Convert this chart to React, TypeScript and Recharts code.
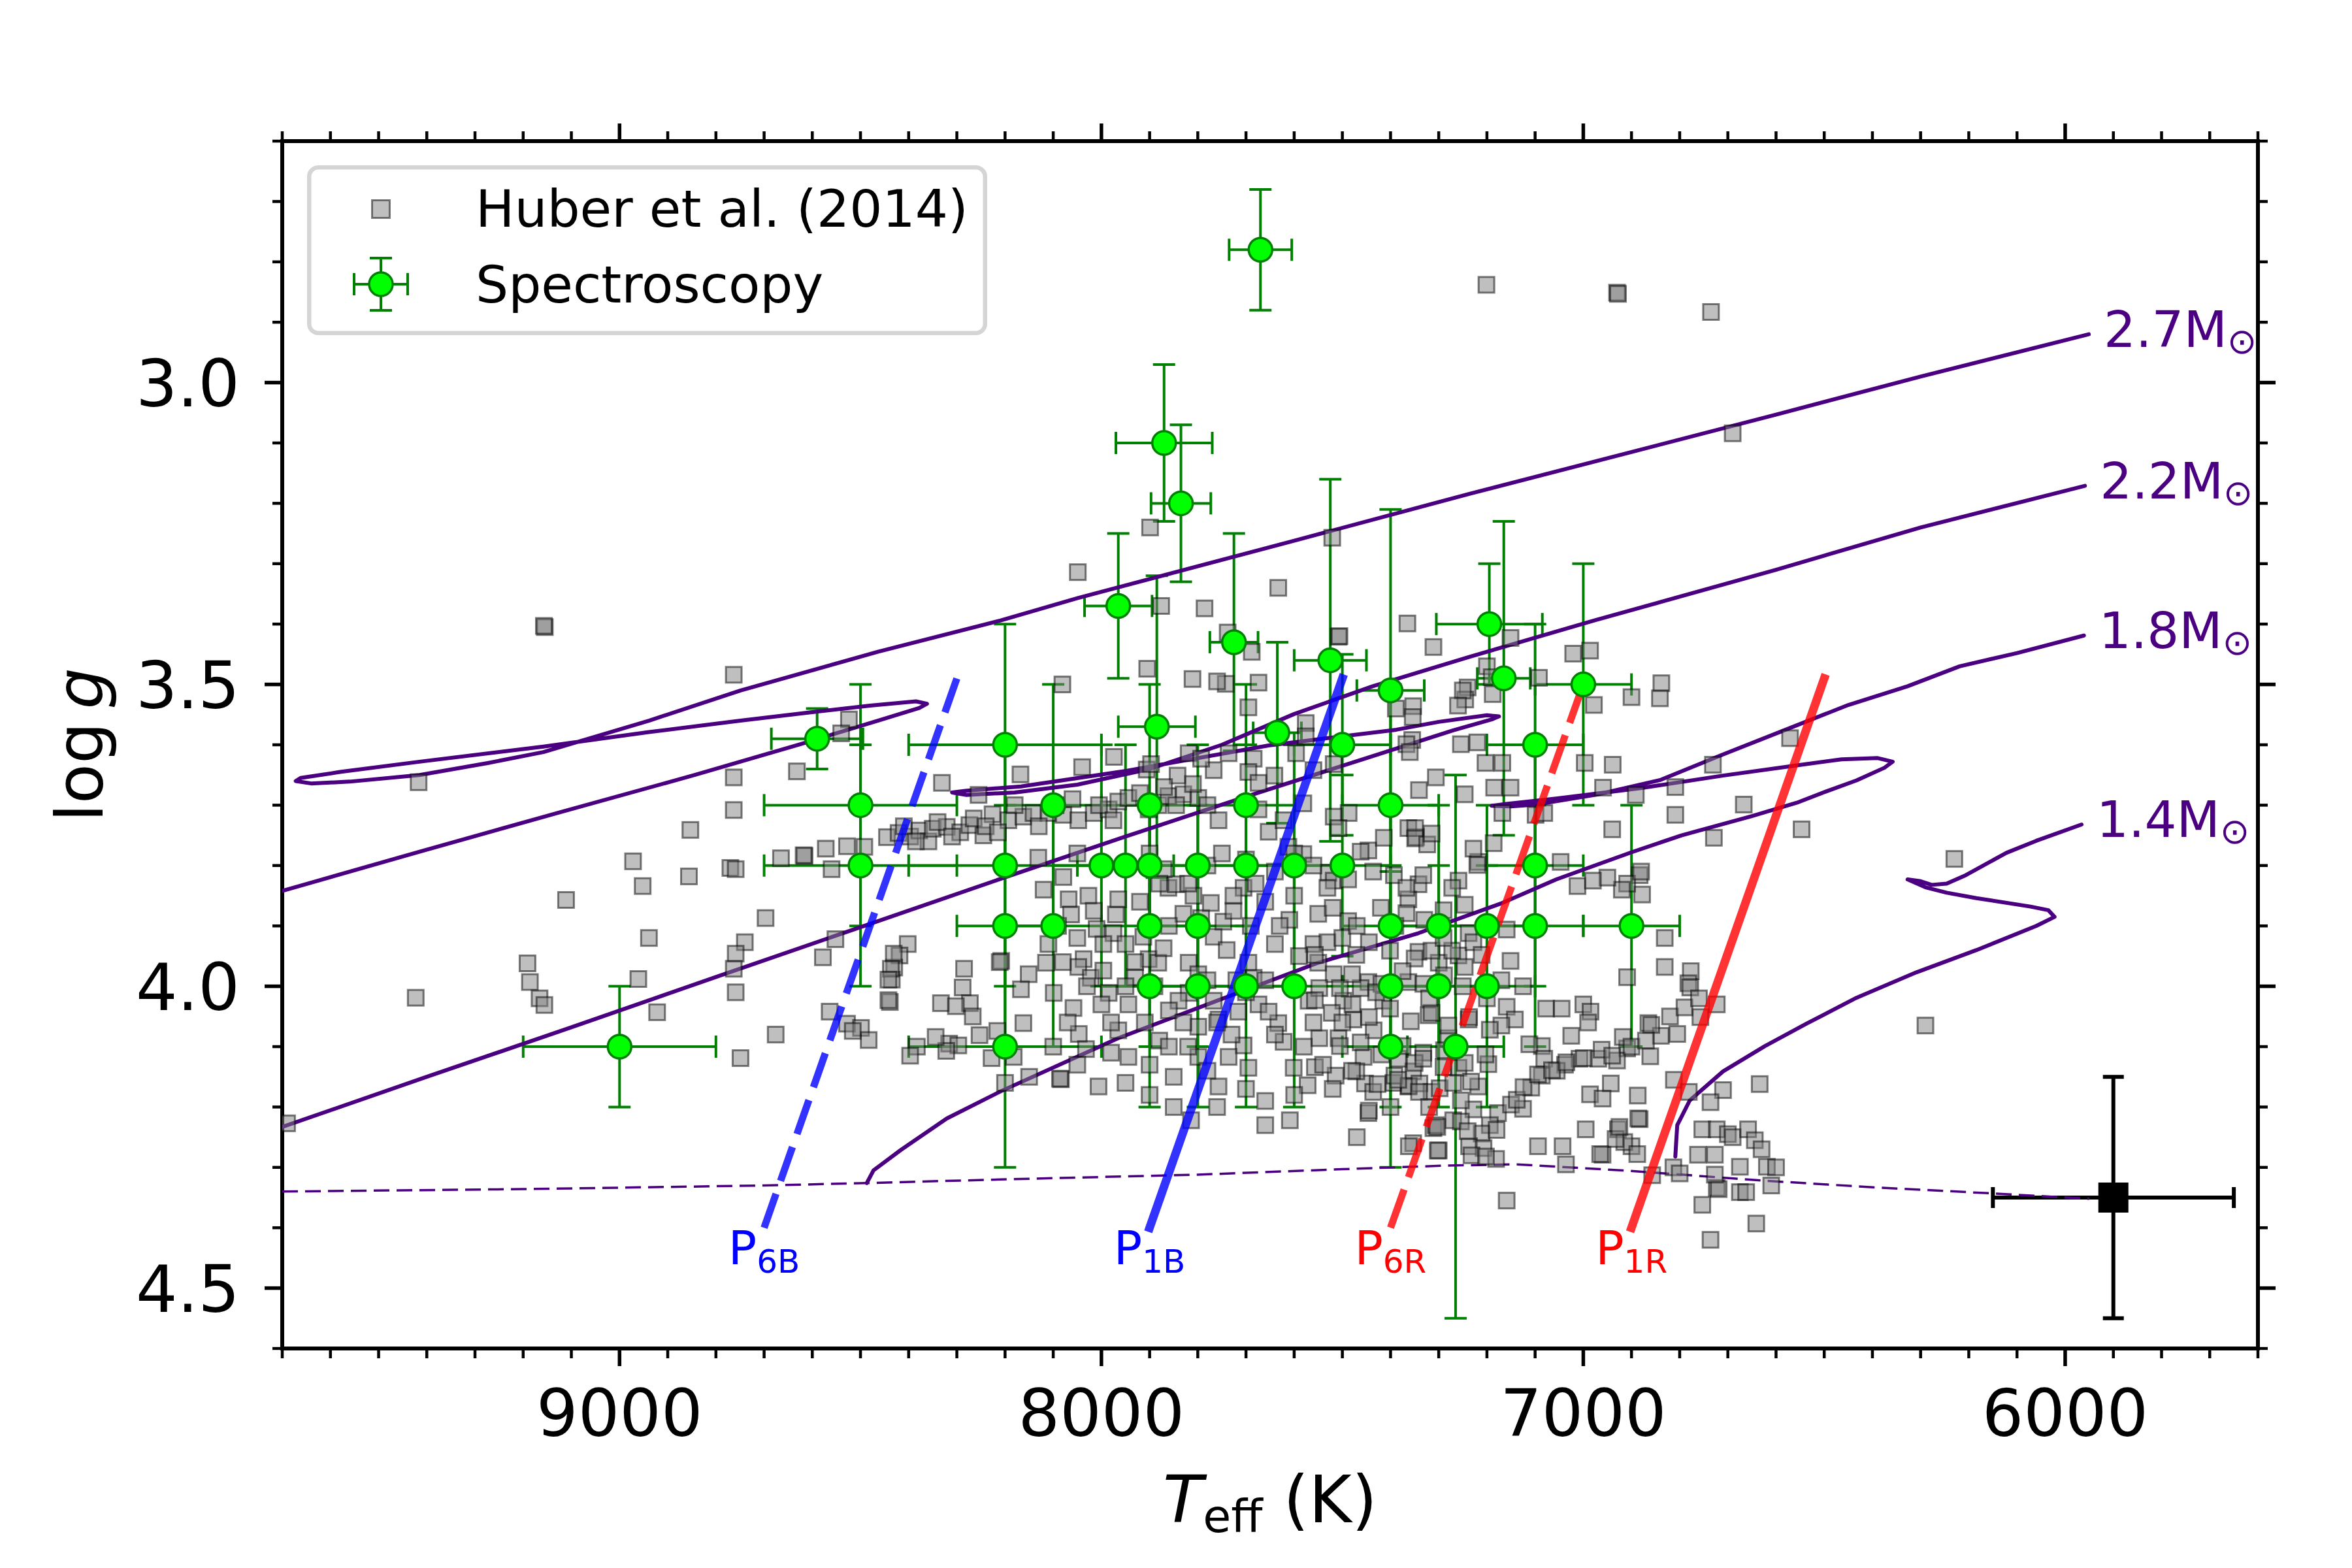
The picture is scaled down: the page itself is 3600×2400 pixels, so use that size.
import React from 'react';
import { ScatterChart, Scatter, XAxis, YAxis, ErrorBar, Legend } from 'recharts';

const FONT = 'DejaVu Sans, sans-serif';

// axes
const TEFF_DOMAIN: [number, number] = [5600, 9700];
const LOGG_DOMAIN: [number, number] = [2.6, 4.6];
const X_MAJOR_TICKS = [6000, 7000, 8000, 9000];
const Y_MAJOR_TICKS = [3.0, 3.5, 4.0, 4.5];
const X_TICKS = Array.from({ length: 42 }, (_, i) => 5600 + i * 100);
const Y_TICKS = Array.from({ length: 21 }, (_, i) => Math.round((2.6 + i * 0.1) * 10) / 10);

// Huber et al. (2014): [Teff, log g]
const HUBER_2014: [number, number][] = [
  [9155, 3.405], [9157, 3.403], [8763, 3.484], [9417, 3.662], [8763, 3.654], [8632, 3.644], [8524, 3.558], [8540, 3.581],
  [8763, 3.708], [8853, 3.741], [8972, 3.793], [8952, 3.834], [8856, 3.818], [8770, 3.804], [8759, 3.806],
  [9111, 3.857], [8665, 3.788], [8616, 3.784], [8572, 3.772], [8528, 3.768], [8492, 3.769], [8560, 3.806],
  [8445, 3.753], [8421, 3.746], [8397, 3.752], [8378, 3.742], [8359, 3.76], [8350, 3.739], [8321, 3.736],
  [8293, 3.745], [8274, 3.733], [8245, 3.75], [8226, 3.715], [8331, 3.663], [8255, 3.683], [8697, 3.887],
  [8552, 3.922], [8578, 3.952], [8740, 3.927], [8759, 3.946], [8763, 3.971], [8759, 4.01], [8939, 3.92],
  [8961, 3.988], [8922, 4.043], [9191, 3.962], [9186, 3.993], [9166, 4.02], [9156, 4.031], [9423, 4.019],
  [8402, 3.93], [8419, 3.949], [8430, 3.969], [8435, 3.989], [8439, 4.026], [8285, 3.971], [8288, 4.002],
  [8273, 4.028], [8333, 4.028], [8302, 4.033], [8267, 4.05], [8253, 4.081], [8216, 4.074], [8564, 4.042],
  [8528, 4.062], [8499, 4.069], [8483, 4.089], [8516, 4.074], [8676, 4.08], [8749, 4.119], [8383, 4.1],
  [8397, 4.115], [8316, 4.095], [8297, 4.098], [8228, 4.119], [9690, 4.227],
  [7876, 3.37], [7786, 3.374], [7905, 3.474], [7811, 3.491], [8081, 3.5], [7742, 3.499], [7674, 3.497],
  [7695, 3.538], [7633, 3.34], [7508, 3.421], [7506, 3.42], [7365, 3.399], [7311, 3.438], [7688, 3.446], [7240, 3.505],
  [7245, 3.525], [7188, 3.516], [7355, 3.592], [7389, 3.54], [7353, 3.536], [7899, 3.24], [7521, 3.257],
  [7738, 3.414], [7760, 3.495], [8049, 3.314],
  [8168, 3.649], [8040, 3.637], [7974, 3.62], [7906, 3.641], [7897, 3.632], [7842, 3.651], [7819, 3.614],
  [7767, 3.642], [7793, 3.623], [7736, 3.614], [7684, 3.623], [7695, 3.645], [7674, 3.663], [7641, 3.651],
  [7576, 3.564], [7576, 3.586], [7596, 3.614], [7560, 3.642], [7518, 3.632], [7487, 3.713], [7518, 3.719],
  [7508, 3.738],
  [8193, 3.725], [8162, 3.719], [8141, 3.713], [8110, 3.713], [8079, 3.716], [8048, 3.725], [8016, 3.713],
  [7985, 3.707], [7965, 3.694], [7944, 3.688], [7902, 3.707], [7882, 3.7], [7861, 3.685], [7830, 3.682],
  [7799, 3.688], [8618, 3.783], [8410, 3.735], [8385, 3.76], [8340, 3.728], [8310, 3.752], [8265, 3.722],
  [8240, 3.735], [8215, 3.745], [8180, 3.7], [8130, 3.735], [8095, 3.7], [8060, 3.69], [8005, 3.7],
  [7975, 3.725], [7920, 3.68], [7870, 3.67], [7845, 3.7], [7810, 3.665], [7780, 3.7],
  [8431, 3.946], [8437, 3.971], [8442, 3.989], [8442, 4.023], [8322, 4.107], [8182, 4.117], [8162, 4.061],
  [8151, 3.98], [8167, 4.005], [8208, 3.958],
  [8131, 3.787], [8079, 3.819], [8068, 3.856], [8063, 3.881], [8110, 3.93], [8115, 3.961], [8099, 4.011],
  [8058, 4.036], [8047, 4.079], [8032, 4.104], [8006, 4.166], [8084, 4.154], [8027, 3.85], [8016, 3.875],
  [7970, 3.881], [7965, 3.856], [7975, 3.912], [7996, 3.93], [8037, 3.955], [8048, 3.968], [8022, 3.986],
  [7985, 4.011], [7996, 3.974], [7944, 4.03], [7965, 4.073], [7944, 4.117], [7913, 3.918], [7902, 3.955],
  [7882, 3.961], [7871, 3.937], [7861, 3.837], [7845, 3.831], [7871, 3.806], [7809, 3.85], [7793, 3.887],
  [7773, 3.862], [7767, 3.918], [7747, 3.893], [7726, 3.875], [7705, 3.837], [7726, 3.85], [7819, 3.961],
  [7799, 3.98], [7819, 4.011], [7840, 4.024], [7767, 4.024], [7757, 4.055], [7799, 4.067], [7695, 3.961],
  [7684, 3.986], [7674, 4.03], [7716, 4.042], [7705, 4.098], [7695, 4.135], [7736, 4.117], [7799, 4.117],
  [7757, 4.166], [7814, 4.222], [7601, 4.135], [7622, 4.092], [7633, 4.061], [7653, 4.042], [7570, 4.024],
  [7560, 3.93], [7550, 3.961], [7518, 3.98], [7498, 4.024], [7477, 4.055], [7508, 4.086], [7456, 4.117],
  [7435, 4.073], [7415, 4.024], [7446, 3.993], [7394, 4.16], [7353, 4.141], [7446, 4.21], [7363, 4.166],
  [7300, 4.272], [7311, 4.235], [7353, 4.26], [7270, 4.222], [7228, 4.204], [7218, 4.166], [7259, 4.135],
  [7197, 4.129], [7332, 4.11], [7280, 4.086], [7238, 4.055], [7321, 4.048], [7363, 3.993], [7300, 3.961],
  [7259, 3.949], [7342, 3.943], [7238, 3.912], [7290, 3.874], [7363, 3.856], [7342, 3.831], [7259, 3.825],
  [7218, 3.794], [7186, 3.763], [7363, 3.738], [7347, 3.753], [7446, 3.775], [7529, 3.812], [7518, 3.825],
  [7653, 3.744], [7612, 3.769], [7581, 3.781], [7622, 3.725], [7581, 3.697], [7674, 3.707], [7757, 3.725],
  [7151, 3.423], [7021, 3.449], [6986, 3.444], [7092, 3.489], [6978, 3.534], [6900, 3.521], [6838, 3.498],
  [6841, 3.523], [7200, 3.47], [7190, 3.488], [7250, 3.51], [7260, 3.535], [7354, 3.554], [7367, 3.599],
  [7360, 3.612], [7254, 3.599], [7220, 3.596], [7203, 3.63], [7168, 3.63], [7185, 3.671], [7151, 3.671],
  [7341, 3.675], [7306, 3.654], [7246, 3.682], [7099, 3.716], [7081, 3.713], [7168, 3.713], [7349, 3.738],
  [7349, 3.755], [7324, 3.765], [7315, 3.747], [7414, 3.754], [7462, 3.777], [7228, 3.772], [7220, 3.799],
  [7047, 3.794], [6997, 3.63], [6939, 3.633], [6959, 3.671], [6940, 3.74], [6891, 3.683], [6809, 3.67],
  [6809, 3.716], [6731, 3.633], [6667, 3.699], [6729, 3.754], [6571, 3.589], [6547, 3.74], [6230, 3.789],
  [7012, 3.834], [6883, 3.816], [6878, 3.848], [6909, 3.83],
  [7159, 3.906], [7151, 3.958], [7125, 4.0], [6831, 3.92], [6831, 3.968], [6777, 3.975], [6782, 3.995],
  [6723, 4.03], [6757, 4.051], [6909, 3.985], [7077, 4.037], [7045, 4.037], [7000, 4.03], [6985, 4.042],
  [6990, 4.06], [7025, 4.082], [7086, 4.099], [7112, 4.096], [7081, 4.12], [7159, 4.034], [7142, 4.055],
  [7170, 4.065], [6865, 4.061], [6839, 4.082], [6805, 4.079], [6861, 4.116], [6909, 4.103], [6943, 4.161],
  [6986, 4.179], [6960, 4.186], [6887, 4.181], [6930, 4.123], [7008, 4.12], [6969, 4.12], [7038, 4.13],
  [7055, 4.14], [7086, 4.148], [7108, 4.168], [7177, 4.21], [7150, 4.196], [7125, 4.203], [7194, 4.23],
  [7211, 4.244], [7180, 4.238], [7237, 4.265], [7207, 4.268], [7181, 4.286], [7094, 4.265], [7043, 4.265],
  [6960, 4.279], [6928, 4.237], [6900, 4.265], [6915, 4.258], [6995, 4.237], [6883, 4.22], [6812, 4.155],
  [6781, 4.175], [6710, 4.172], [6634, 4.162], [6736, 4.192], [6753, 4.237], [6723, 4.237], [6700, 4.245],
  [6690, 4.25], [6658, 4.237], [6762, 4.279], [6813, 4.3], [6800, 4.31], [6857, 4.313], [6727, 4.279],
  [6723, 4.334], [6675, 4.299], [6619, 4.299], [6675, 4.341], [6662, 4.341], [6753, 4.362], [6641, 4.393],
  [6736, 4.42], [7159, 4.355], [7302, 4.272], [7306, 4.23], [7362, 4.265], [7254, 4.224], [7232, 4.28],
  [7202, 4.282], [7453, 4.161], [7436, 4.175], [7392, 4.148], [7362, 4.165], [7340, 4.161], [7315, 4.175],
  [7445, 4.206], [7350, 4.127], [7384, 4.12], [7233, 4.158], [7290, 4.134], [6290, 4.065],
  [6880, 3.81], [6920, 3.84], [6950, 3.82], [6980, 3.825], [6778, 4.002], [6719, 4.336], [6727, 4.312],
  [6888, 4.278], [6886, 4.219], [6933, 4.253], [6925, 4.233], [6965, 4.278], [7036, 4.295], [7303, 4.233],
  [7138, 4.188], [7124, 4.167], [7094, 4.146], [7065, 4.139], [7035, 4.126], [6999, 4.119], [6962, 4.105],
  [6918, 4.084], [6859, 4.064], [6900, 4.1], [6940, 4.115], [6870, 4.09], [6820, 4.05], [6790, 4.035],
  [6760, 4.02], [8086, 4.153], [7609, 4.222], [7572, 4.164], [8211, 3.96], [8344, 4.084],
  [7531, 3.837], [7488, 3.823], [7436, 3.81], [7393, 3.816], [7367, 3.837], [7332, 3.816], [7272, 3.837],
  [7246, 3.865], [7367, 3.879], [7488, 3.892], [7445, 3.927], [7531, 3.927], [7557, 3.948], [7471, 3.948],
  [7401, 3.941], [7350, 3.954], [7315, 3.941], [7272, 3.941], [7228, 3.927], [7211, 3.948], [7246, 3.968],
  [7289, 3.982], [7332, 3.996], [7375, 3.975], [7419, 3.996], [7462, 4.003], [7505, 4.003], [7548, 4.003],
  [7557, 4.023], [7522, 4.044], [7479, 4.03], [7445, 4.051], [7401, 4.037], [7358, 4.058], [7315, 4.044],
  [7280, 4.065], [7237, 4.051], [7194, 4.072], [7548, 4.086], [7505, 4.099], [7462, 4.093], [7419, 4.113],
  [7375, 4.099], [7332, 4.12], [7289, 4.106], [7246, 4.127], [7203, 4.113], [7557, 4.134], [7514, 4.148],
  [7471, 4.141], [7427, 4.162], [7384, 4.155], [7341, 4.175], [7298, 4.169], [7254, 4.189],
  [8120, 3.84], [8090, 3.9], [8050, 3.92], [8010, 3.905], [7950, 3.93], [7930, 3.985], [7890, 4.0],
  [7860, 4.04], [7830, 4.06], [7880, 4.09], [7910, 4.06], [7950, 4.0], [8000, 4.03], [8070, 4.06],
  [8100, 4.1], [7980, 4.11], [7900, 4.13], [7850, 4.15], [7780, 4.14], [7730, 4.08], [7700, 4.01],
  [7660, 3.99], [7640, 3.93], [7610, 3.89], [7660, 3.86], [7690, 3.9], [7740, 3.94], [7780, 3.99],
  [7830, 3.88], [7860, 3.9], [7920, 3.86], [7950, 3.8], [8000, 3.8], [8050, 3.78], [7900, 3.78],
  [7780, 3.8], [7750, 3.78], [7700, 3.79], [7640, 3.81], [7600, 3.85], [7550, 3.88], [7520, 3.87],
  [7560, 3.8], [7500, 3.92], [7480, 3.98], [7600, 4.0], [7640, 4.08], [7580, 4.1], [7540, 4.13],
  [7520, 4.17], [7480, 4.14], [7600, 4.18], [7660, 4.19], [7700, 4.17], [7760, 4.2], [7850, 4.2],
  [7900, 4.18], [7950, 4.16], [8050, 4.13], [8150, 4.15], [8200, 4.16], [7660, 4.23], [7470, 4.25],
  [7560, 4.06], [7590, 3.95], [7630, 3.9], [7470, 3.9], [7420, 3.87], [7390, 3.9], [7330, 3.89],
  [7290, 3.92], [7250, 4.0], [7200, 4.02], [7170, 3.99], [7320, 4.02], [7430, 4.01], [7500, 4.06],
  [7270, 4.16], [7320, 4.2], [7400, 4.2], [7240, 4.24], [7860, 4.1], [7820, 4.1], [7760, 4.06],
  [7720, 3.99], [7980, 4.06], [8030, 4.0], [8080, 3.96], [7930, 3.96], [7880, 3.83], [7820, 3.83],
  [7680, 3.83], [7600, 3.78],
  [6644, 4.255], [6600, 4.3], [6610, 4.33], [6630, 4.27],
  [7201, 2.838], [6930, 2.851], [6928, 2.853], [6735, 2.883], [6690, 3.084],
];

// Spectroscopy sample
const SPEC_TEFF = [
  7670, 7870, 7835, 7965, 7725, 7525, 7195, 7165, 7000, 7400, 8590, 7885, 8200, 7635, 7500, 7100,
  8500, 8100, 7900, 7700, 7400,
  8500, 8200, 8000, 7950, 7900, 7800, 7700, 7600, 7500, 7100,
  8200, 8100, 7900, 7800, 7400, 7300, 7200, 7100, 6900,
  7900, 7800, 7700, 7600, 7400, 7300, 7200,
  9000, 8200, 7400, 7265,
];
const SPEC_LOGG = [
  2.78, 3.1, 3.2, 3.37, 3.43, 3.46, 3.4, 3.49, 3.5, 3.51, 3.59, 3.57, 3.6, 3.58, 3.6, 3.6,
  3.7, 3.7, 3.7, 3.7, 3.7,
  3.8, 3.8, 3.8, 3.8, 3.8, 3.8, 3.8, 3.8, 3.8, 3.8,
  3.9, 3.9, 3.9, 3.9, 3.9, 3.9, 3.9, 3.9, 3.9,
  4.0, 4.0, 4.0, 4.0, 4.0, 4.0, 4.0,
  4.1, 4.1, 4.1, 4.1,
];
const SPEC_TEFF_ERR = [
  65, 100, 62, 70, 50, 75, 110, 55, 100, 70, 95, 80, 200, 50, 100, 100,
  200, 100, 100, 100, 100,
  200, 200, 100, 100, 100, 100, 100, 100, 100, 100,
  100, 100, 100, 100, 100, 100, 100, 100, 100,
  100, 100, 100, 100, 100, 100, 100,
  200, 200, 100, 100,
];
const SPEC_LOGG_ERR = [
  0.1, 0.13, 0.13, 0.12, 0.18, 0.3, 0.1, 0.26, 0.2, 0.3, 0.05, 0.25, 0.2, 0.15, 0.15, 0.2,
  0.2, 0.2, 0.2, 0.2, 0.2,
  0.2, 0.2, 0.2, 0.2, 0.1, 0.2, 0.2, 0.2, 0.15, 0.2,
  0.2, 0.2, 0.2, 0.2, 0.2, 0.2, 0.2, 0.2, 0.2,
  0.2, 0.2, 0.2, 0.2, 0.2, 0.2, 0.2,
  0.1, 0.2, 0.2, 0.45,
];

// typical uncertainty
const TYPICAL_ERR = { teff: 5900, logg: 4.35, teffErr: 250, loggErr: 0.2 };

// evolutionary tracks [Teff, log g]
const TRACK_27: [number, number][] = [
  [9700, 3.842], [9415, 3.777], [9129, 3.713], [8844, 3.65], [8625, 3.599], [8464, 3.56], [8378, 3.539],
  [8362, 3.532], [8385, 3.528], [8480, 3.535], [8600, 3.546], [8749, 3.56], [8939, 3.579], [9158, 3.603],
  [9415, 3.628], [9580, 3.645], [9662, 3.655], [9672, 3.66], [9640, 3.664], [9560, 3.661], [9415, 3.65],
  [9272, 3.63], [9158, 3.612], [8939, 3.56], [8749, 3.51], [8464, 3.446], [8209, 3.394], [8049, 3.357],
  [7600, 3.262], [7235, 3.184], [6900, 3.115], [6600, 3.053], [6300, 2.99], [5951, 2.92],
];
const TRACK_22: [number, number][] = [
  [9700, 4.233], [9400, 4.15], [9100, 4.068], [8794, 3.983], [8500, 3.902], [8209, 3.822], [7950, 3.752],
  [7700, 3.686], [7450, 3.622], [7270, 3.576], [7190, 3.558], [7175, 3.553], [7200, 3.551], [7300, 3.562],
  [7388, 3.575], [7653, 3.601], [7947, 3.643], [8167, 3.669], [8280, 3.676], [8310, 3.679], [8280, 3.683],
  [8180, 3.679], [8050, 3.666], [7900, 3.64], [7750, 3.6], [7600, 3.549], [7437, 3.503], [7235, 3.454],
  [6977, 3.394], [6600, 3.31], [6300, 3.24], [5959, 3.171],
];
const TRACK_18: [number, number][] = [
  [8487, 4.326], [8473, 4.305], [8416, 4.271], [8321, 4.219], [8209, 4.174], [7965, 4.086], [7757, 4.023],
  [7550, 3.961], [7342, 3.912], [7168, 3.862], [7056, 3.823], [6900, 3.778], [6796, 3.75], [6650, 3.718],
  [6557, 3.696], [6495, 3.677], [6433, 3.659], [6375, 3.638], [6358, 3.628], [6389, 3.622], [6464, 3.624],
  [6557, 3.634], [6710, 3.651], [6883, 3.672], [7056, 3.689], [7160, 3.698], [7190, 3.701], [7150, 3.702],
  [7099, 3.699], [6969, 3.682], [6839, 3.658], [6710, 3.616], [6580, 3.575], [6450, 3.534], [6327, 3.503],
  [6219, 3.47], [6100, 3.448], [5961, 3.419],
];
const TRACK_14: [number, number][] = [
  [6809, 4.282], [6807, 4.255], [6805, 4.23], [6779, 4.189], [6710, 4.141], [6623, 4.099], [6537, 4.062],
  [6433, 4.019], [6309, 3.977], [6184, 3.94], [6060, 3.9], [6022, 3.885], [6035, 3.874], [6072, 3.868],
  [6184, 3.854], [6246, 3.845], [6290, 3.836], [6327, 3.823], [6300, 3.826], [6277, 3.832], [6246, 3.83],
  [6209, 3.817], [6122, 3.779], [6060, 3.759], [5966, 3.732],
];
const ZAMS: [number, number][] = [
  [9700, 4.34], [9200, 4.336], [8700, 4.33], [8487, 4.326], [8209, 4.32], [7800, 4.312], [7500, 4.303],
  [7285, 4.297], [7138, 4.295], [6918, 4.305], [6624, 4.322], [6400, 4.333], [6154, 4.343], [5950, 4.352],
];
const TRACK_MASSES = ['2.7', '2.2', '1.8', '1.4'];

// instability-strip edges: bottom and top [Teff, log g]
const P_NAMES = ['6B', '1B', '6R', '1R'];
const P_BOTTOM: [number, number][] = [[8700, 4.4], [7900, 4.4], [7400, 4.4], [6900, 4.4]];
const P_TOP: [number, number][] = [[8300, 3.49], [7500, 3.49], [7000, 3.5], [6500, 3.49]];

// ---- styles ----
const INDIGO = '#4b0082';
const P_STYLE: Record<string, { color: string; dash?: string; width: number }> = {
  '6B': { color: '#0000ff', dash: '55 21', width: 11 },
  '1B': { color: '#0000ff', width: 13 },
  '6R': { color: '#ff0000', dash: '62 20', width: 11 },
  '1R': { color: '#ff0000', width: 13 },
};
const SPINE = { stroke: '#000', strokeWidth: 6, strokeLinecap: 'square' as const };
const MAJOR_LEN = 27;
const MINOR_LEN = 15;
const SQ = 24;

const toXY = (pts: [number, number][]) => pts.map(([x, y]) => ({ x, y }));

const huberData = toXY(HUBER_2014);
const specData = SPEC_TEFF.map((t, i) => ({ x: t, y: SPEC_LOGG[i], ex: SPEC_TEFF_ERR[i], ey: SPEC_LOGG_ERR[i] }));
const typicalData = [{ x: TYPICAL_ERR.teff, y: TYPICAL_ERR.logg, ex: TYPICAL_ERR.teffErr, ey: TYPICAL_ERR.loggErr }];
const tracks = [TRACK_27, TRACK_22, TRACK_18, TRACK_14];
const massLabelData = tracks.map((tr, i) => ({ x: tr[tr.length - 1][0], y: tr[tr.length - 1][1], m: TRACK_MASSES[i] }));
const pLabelData = P_NAMES.map((n, i) => ({ x: P_BOTTOM[i][0], y: P_BOTTOM[i][1], n }));

const isMajorX = (v: number) => X_MAJOR_TICKS.includes(v);
const isMajorY = (v: number) => Y_MAJOR_TICKS.some((t) => Math.abs(t - v) < 1e-6);

const BottomTick = ({ x, y, payload }: any) => {
  const major = isMajorX(payload.value);
  return (
    <g>
      <line x1={x} x2={x} y1={y} y2={y + (major ? MAJOR_LEN : MINOR_LEN)} stroke="#000" strokeWidth={major ? 5.5 : 4.5} />
      {major && (
        <text x={x} y={y + 134} textAnchor="middle" fontSize={100} fontFamily={FONT} fill="#000">
          {payload.value}
        </text>
      )}
    </g>
  );
};

const TopTick = ({ x, y, payload }: any) => {
  const major = isMajorX(payload.value);
  return <line x1={x} x2={x} y1={y} y2={y - (major ? MAJOR_LEN : MINOR_LEN)} stroke="#000" strokeWidth={major ? 5.5 : 4.5} />;
};

const LeftTick = ({ x, y, payload }: any) => {
  const major = isMajorY(payload.value);
  return (
    <g>
      <line x1={x} x2={x - (major ? MAJOR_LEN : MINOR_LEN)} y1={y} y2={y} stroke="#000" strokeWidth={major ? 5.5 : 4.5} />
      {major && (
        <text x={x - 65} y={y + 36} textAnchor="end" fontSize={100} fontFamily={FONT} fill="#000">
          {Number(payload.value).toFixed(1)}
        </text>
      )}
    </g>
  );
};

const RightTick = ({ x, y, payload }: any) => {
  const major = isMajorY(payload.value);
  return <line x1={x} x2={x + (major ? MAJOR_LEN : MINOR_LEN)} y1={y} y2={y} stroke="#000" strokeWidth={major ? 5.5 : 4.5} />;
};

const XTitle = (props: any) => {
  const vb = props.viewBox;
  return (
    <text x={vb.x + vb.width / 2} y={vb.y + 266} textAnchor="middle" fontSize={100} fontFamily={FONT} fill="#000">
      <tspan fontStyle="italic">T</tspan>
      <tspan fontSize={70} dy={15}>eff</tspan>
      <tspan dy={-15}>{'\u00a0(K)'}</tspan>
    </text>
  );
};

const YTitle = (props: any) => {
  const vb = props.viewBox;
  const cx = vb.x + 157;
  const cy = vb.y + vb.height / 2;
  return (
    <text transform={`translate(${cx},${cy}) rotate(-90)`} textAnchor="middle" fontSize={100} fontFamily={FONT} fill="#000">
      log<tspan>{'\u2009'}</tspan>
      <tspan fontStyle="italic">g</tspan>
    </text>
  );
};

const NoShape = () => <g />;

const HuberSquare = ({ cx, cy }: any) => (
  <rect x={cx - SQ / 2} y={cy - SQ / 2} width={SQ} height={SQ} fill="#808080" fillOpacity={0.5} stroke="#000" strokeOpacity={0.5} strokeWidth={3} />
);

const SpecDot = ({ cx, cy }: any) => <circle cx={cx} cy={cy} r={18} fill="#00ff00" stroke="#008000" strokeWidth={3.5} />;

const TypicalSquare = ({ cx, cy }: any) => <rect x={cx - 23} y={cy - 23} width={46} height={46} fill="#000" />;

const MassLabel = ({ cx, cy, payload }: any) => (
  <text x={cx + 23} y={cy + 19} fontSize={77} fontFamily={FONT} fill={INDIGO}>
    {payload.m}M<tspan fontSize={54} dy={10}>{'\u2299'}</tspan>
  </text>
);

const PLabel = ({ cx, cy, payload }: any) => (
  <text x={cx} y={cy + 56} textAnchor="middle" fontSize={72} fontFamily={FONT} fill={P_STYLE[payload.n].color}>
    P<tspan fontSize={50} dy={13}>{payload.n}</tspan>
  </text>
);

const LegendBox = () => (
  <svg width={1050} height={270} style={{ display: 'block', overflow: 'visible' }}>
    <rect x={7.25} y={7.25} width={1034.5} height={253.5} rx={14} fill="#fff" fillOpacity={0.8} stroke="#d5d5d5" strokeWidth={6.5} />
    <rect x={117 - 13.5} y={71 - 13.5} width={27} height={27} fill="#808080" fillOpacity={0.5} stroke="#000" strokeOpacity={0.5} strokeWidth={3} />
    <text x={262} y={98} fontSize={79} fontFamily={FONT} fill="#000">Huber et al. (2014)</text>
    <g stroke="#008000" strokeWidth={4}>
      <line x1={76} x2={158} y1={186} y2={186} />
      <line x1={76} x2={76} y1={169} y2={203} />
      <line x1={158} x2={158} y1={169} y2={203} />
      <line x1={117} x2={117} y1={146} y2={226} />
      <line x1={100} x2={134} y1={146} y2={146} />
      <line x1={100} x2={134} y1={226} y2={226} />
    </g>
    <circle cx={117} cy={186} r={18} fill="#00ff00" stroke="#008000" strokeWidth={3.5} />
    <text x={262} y={214} fontSize={79} fontFamily={FONT} fill="#000">Spectroscopy</text>
  </svg>
);

const App: React.FC = () => {
  const axisCommon = {
    type: 'number' as const,
    allowDataOverflow: true,
    interval: 0 as const,
    tickLine: false,
    tickSize: 0,
    tickMargin: 0,
    axisLine: SPINE,
  };
  return (
    <div style={{ position: 'absolute', left: 0, top: 0, width: 3600, height: 2400, background: '#fff', fontFamily: FONT }}>
      <ScatterChart width={3600} height={2400} margin={{ top: 0, right: 0, bottom: 0, left: 0 }}>
        <XAxis xAxisId="bottom" orientation="bottom" dataKey="x" domain={TEFF_DOMAIN} reversed ticks={X_TICKS} tick={BottomTick} height={336} label={XTitle} {...axisCommon} />
        <XAxis xAxisId="top" orientation="top" dataKey="x" domain={TEFF_DOMAIN} reversed ticks={X_TICKS} tick={TopTick} height={216} {...axisCommon} />
        <YAxis yAxisId="left" orientation="left" dataKey="y" domain={LOGG_DOMAIN} reversed ticks={Y_TICKS} tick={LeftTick} width={432} label={YTitle} {...axisCommon} />
        <YAxis yAxisId="right" orientation="right" dataKey="y" domain={LOGG_DOMAIN} reversed ticks={Y_TICKS} tick={RightTick} width={144} {...axisCommon} />

        <Scatter xAxisId="top" yAxisId="right" data={[]} shape={NoShape} isAnimationActive={false} />

        {tracks.map((tr, i) => (
          <Scatter
            key={`track-${i}`}
            xAxisId="bottom"
            yAxisId="left"
            data={toXY(tr)}
            shape={NoShape}
            line={{ stroke: INDIGO, strokeWidth: 6, strokeLinejoin: 'round', strokeLinecap: 'round' }}
            isAnimationActive={false}
          />
        ))}
        <Scatter
          xAxisId="bottom"
          yAxisId="left"
          data={toXY(ZAMS)}
          shape={NoShape}
          line={{ stroke: INDIGO, strokeWidth: 3.5, strokeDasharray: '24 11' }}
          isAnimationActive={false}
        />

        <Scatter xAxisId="bottom" yAxisId="left" data={huberData} shape={HuberSquare} isAnimationActive={false} />

        {P_NAMES.map((n, i) => (
          <Scatter
            key={`p-${n}`}
            xAxisId="bottom"
            yAxisId="left"
            data={toXY([P_BOTTOM[i], P_TOP[i]])}
            shape={NoShape}
            line={{
              stroke: P_STYLE[n].color,
              strokeOpacity: 0.8,
              strokeWidth: P_STYLE[n].width,
              strokeDasharray: P_STYLE[n].dash,
              strokeLinecap: P_STYLE[n].dash ? 'butt' : 'square',
            }}
            isAnimationActive={false}
          />
        ))}

        <Scatter xAxisId="bottom" yAxisId="left" data={specData} shape={SpecDot} isAnimationActive={false}>
          <ErrorBar dataKey="ex" direction="x" width={17} stroke="#008000" strokeWidth={4} />
          <ErrorBar dataKey="ey" direction="y" width={17} stroke="#008000" strokeWidth={4} />
        </Scatter>

        <Scatter xAxisId="bottom" yAxisId="left" data={typicalData} shape={TypicalSquare} isAnimationActive={false}>
          <ErrorBar dataKey="ex" direction="x" width={16} stroke="#000" strokeWidth={6} />
          <ErrorBar dataKey="ey" direction="y" width={16} stroke="#000" strokeWidth={6} />
        </Scatter>

        <Scatter xAxisId="bottom" yAxisId="left" data={massLabelData} shape={MassLabel} isAnimationActive={false} />
        <Scatter xAxisId="bottom" yAxisId="left" data={pLabelData} shape={PLabel} isAnimationActive={false} />

        <Legend
          layout="vertical"
          align="center"
          verticalAlign="middle"
          content={LegendBox}
          wrapperStyle={{ left: 466, top: 249, width: 1050, height: 270 }}
        />
      </ScatterChart>
    </div>
  );
};

export default App;
